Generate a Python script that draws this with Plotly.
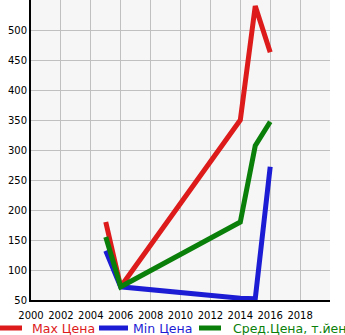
import plotly.graph_objects as go

years = [2005, 2006, 2014, 2015, 2016]
max_price = [180, 72, 350, 540, 463]
min_price = [132, 72, 53, 52, 272]
avg_price = [155, 72, 180, 307, 347]
x_ticks = list(range(2000, 2020, 2))
y_ticks = list(range(50, 550, 50))

series = [("Max Цена", max_price, "#dd1b1b"),
          ("Min Цена", min_price, "#1c1cd4"),
          ("Сред.Цена, т.йен", avg_price, "#0a800a")]

L, R, T, B, W, H = 31, 15, 0, 35, 345, 335
pw, ph = W - L - R, H - T - B

fig = go.Figure()
for name, vals, col in series:
    fig.add_trace(go.Scatter(x=years, y=vals, mode="lines", name=name,
                             line=dict(color=col, width=5)))

# manual legend row (swatch + label) below the plot
leg_y = 328
swatches = [(0, 22, 30), (99, 128, 131), (199, 221, 231)]
shapes, annotations = [], []
for (x0, x1, tx), (name, _, col) in zip(swatches, series):
    py = (ph - (leg_y - T)) / ph
    shapes.append(dict(type="line", xref="paper", yref="paper",
                       x0=(x0 - L) / pw, x1=(x1 - L) / pw, y0=py, y1=py,
                       line=dict(color=col, width=5)))
    annotations.append(dict(xref="paper", yref="paper", x=(tx - L) / pw, y=py,
                            xanchor="left", yanchor="middle", showarrow=False,
                            text=name, font=dict(size=12.5, color=col)))

fig.update_layout(
    width=W, height=H,
    margin=dict(l=L, r=R, t=T, b=B),
    plot_bgcolor="#f6f6f6", paper_bgcolor="white",
    font=dict(family="DejaVu Sans", size=10, color="black"),
    showlegend=False,
    shapes=shapes, annotations=annotations,
    xaxis=dict(range=[2000, 2020], tickvals=x_ticks, showgrid=True, gridcolor="#c0c0c0",
               gridwidth=1, showline=True, linecolor="black", linewidth=2,
               ticks="outside", ticklen=5, tickcolor="rgba(0,0,0,0)", zeroline=False),
    yaxis=dict(range=[50, 550], tickvals=y_ticks, showgrid=True, gridcolor="#c0c0c0",
               gridwidth=1, showline=True, linecolor="black", linewidth=2,
               ticks="", zeroline=False),
)
fig.write_html("out.html")
